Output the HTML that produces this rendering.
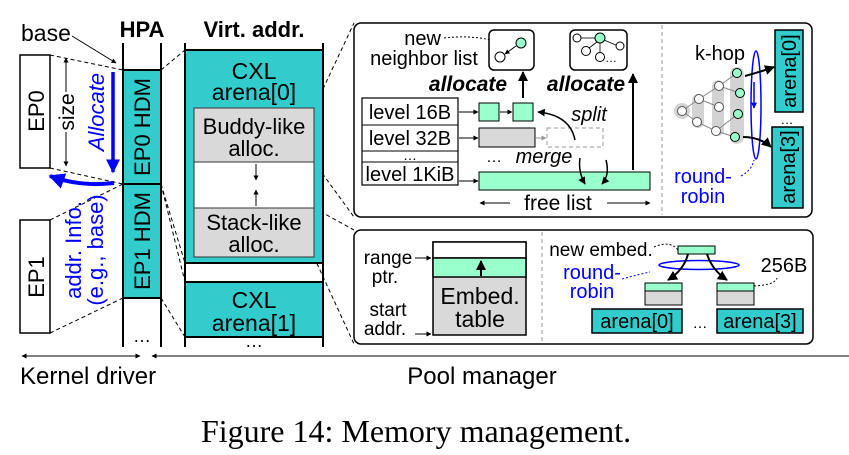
<!DOCTYPE html>
<html><head><meta charset="utf-8"><style>
html,body{margin:0;padding:0;background:#fff;}
svg{display:block;font-family:"Liberation Sans",sans-serif;}
</style></head><body>
<svg width="849" height="455" viewBox="0 0 849 455" xmlns="http://www.w3.org/2000/svg">
<defs>
<marker id="a" viewBox="0 0 10 10" refX="9" refY="5" markerWidth="5" markerHeight="5" orient="auto-start-reverse"><path d="M0,0L10,5L0,10z" fill="#000"/></marker>
<marker id="ab" viewBox="0 0 10 10" refX="9" refY="5" markerWidth="4" markerHeight="4" orient="auto"><path d="M0,0L10,5L0,10z" fill="#00f"/></marker>
<marker id="ag" viewBox="0 0 10 10" refX="9" refY="5" markerWidth="5" markerHeight="5" orient="auto"><path d="M0,0L10,5L0,10z" fill="#999"/></marker>
</defs>
<rect x="20" y="55" width="30" height="113" fill="#fff" stroke="#000" stroke-width="1.5"/>
<text transform="translate(44,111) rotate(-90)" font-size="22" text-anchor="middle">EP0</text>
<rect x="20" y="220" width="30" height="113" fill="#fff" stroke="#000" stroke-width="1.5"/>
<text transform="translate(44,277) rotate(-90)" font-size="22" text-anchor="middle">EP1</text>
<text x="21" y="41" font-size="23">base</text>
<line x1="72" y1="36" x2="116" y2="63" stroke="#000" marker-end="url(#a)"/>
<g stroke="#000" stroke-dasharray="4,3" fill="none">
<line x1="50" y1="55" x2="123" y2="70"/><line x1="50" y1="168" x2="123" y2="184"/>
<line x1="50" y1="220" x2="123" y2="184"/><line x1="50" y1="333" x2="123" y2="298"/>
<line x1="161" y1="70" x2="185" y2="50"/><line x1="161" y1="184" x2="185" y2="263"/>
<line x1="161" y1="184" x2="185" y2="282"/><line x1="161" y1="298" x2="185" y2="337"/>
<line x1="314" y1="108" x2="354" y2="23"/><line x1="314" y1="162" x2="354" y2="217"/>
<line x1="314" y1="208" x2="354" y2="230"/><line x1="314" y1="257" x2="354" y2="344"/>
</g>
<line x1="66" y1="58" x2="66" y2="166" stroke="#000" marker-start="url(#a)" marker-end="url(#a)"/>
<rect x="56" y="92" width="20" height="40" fill="#fff"/>
<text transform="translate(74,112) rotate(-90)" font-size="21" text-anchor="middle">size</text>
<text transform="translate(104,112) rotate(-90)" font-size="22" text-anchor="middle" fill="#00f" font-style="italic">Allocate</text>
<line x1="113" y1="72" x2="113" y2="172" stroke="#00f" stroke-width="3.5" marker-end="url(#ab)"/>
<path d="M114,183 Q80,187 50,176" stroke="#00f" stroke-width="4" fill="none" marker-end="url(#ab)"/>
<text transform="translate(81,250) rotate(-90)" font-size="22" text-anchor="middle" fill="#00f">addr. Info.</text>
<text transform="translate(103,250) rotate(-90)" font-size="22" text-anchor="middle" fill="#00f">(e.g., base)</text>
<text x="142" y="37" font-size="22" font-weight="bold" text-anchor="middle">HPA</text>
<line x1="123" y1="43" x2="123" y2="347" stroke="#000" stroke-width="2"/>
<line x1="161" y1="43" x2="161" y2="347" stroke="#000" stroke-width="2"/>
<rect x="123" y="70" width="38" height="114" fill="#33cccc" stroke="#000" stroke-width="2"/>
<rect x="123" y="184" width="38" height="114" fill="#33cccc" stroke="#000" stroke-width="2"/>
<text transform="translate(150,127) rotate(-90)" font-size="22" text-anchor="middle">EP0 HDM</text>
<text transform="translate(150,241) rotate(-90)" font-size="22" text-anchor="middle">EP1 HDM</text>
<text x="142" y="342" font-size="18" text-anchor="middle">…</text>
<text x="254" y="37" font-size="22" font-weight="bold" text-anchor="middle">Virt. addr.</text>
<line x1="185" y1="43" x2="185" y2="347" stroke="#000" stroke-width="2"/>
<line x1="323" y1="43" x2="323" y2="347" stroke="#000" stroke-width="2"/>
<rect x="185" y="50" width="138" height="213" fill="#33cccc" stroke="#000" stroke-width="2"/>
<text x="254" y="79" font-size="23" text-anchor="middle">CXL</text>
<text x="254" y="100" font-size="23" text-anchor="middle">arena[0]</text>
<rect x="194" y="108" width="120" height="149" fill="#fff" stroke="#333"/>
<rect x="194" y="108" width="120" height="54" fill="#d9d9d9" stroke="#333"/>
<rect x="194" y="208" width="120" height="49" fill="#d9d9d9" stroke="#333"/>
<text x="254" y="134" font-size="22" text-anchor="middle">Buddy-like</text>
<text x="254" y="156" font-size="22" text-anchor="middle">alloc.</text>
<text x="254" y="230" font-size="22" text-anchor="middle">Stack-like</text>
<text x="254" y="252" font-size="22" text-anchor="middle">alloc.</text>
<line x1="256" y1="164" x2="256" y2="180" stroke="#000" marker-end="url(#a)"/>
<line x1="256" y1="206" x2="256" y2="190" stroke="#000" marker-end="url(#a)"/>
<rect x="185" y="282" width="138" height="55" fill="#33cccc" stroke="#000" stroke-width="2"/>
<text x="254" y="308" font-size="23" text-anchor="middle">CXL</text>
<text x="254" y="331" font-size="23" text-anchor="middle">arena[1]</text>
<text x="254" y="347" font-size="18" text-anchor="middle">…</text>
<line x1="22" y1="356" x2="140" y2="356" stroke="#000" marker-start="url(#a)" marker-end="url(#a)"/>
<line x1="152" y1="356" x2="849" y2="356" stroke="#000" marker-start="url(#a)"/>
<text x="20" y="384" font-size="24">Kernel driver</text>
<text x="482" y="384" font-size="24" text-anchor="middle">Pool manager</text>
<text x="416" y="442" font-size="32" text-anchor="middle" font-family="Liberation Serif,serif">Figure 14: Memory management.</text>
<rect x="354" y="23" width="458" height="194" rx="7" fill="#fff" stroke="#000" stroke-width="1.5"/>
<line x1="662" y1="25" x2="662" y2="215" stroke="#999" stroke-dasharray="4,3"/>
<text x="441" y="45" font-size="20" text-anchor="end">new</text>
<text x="424" y="65" font-size="20" text-anchor="middle">neighbor list</text>
<path d="M444,38 Q470,35 490,40" stroke="#000" stroke-dasharray="2,2" fill="none"/>
<rect x="489" y="30" width="45" height="40" rx="5" fill="#fff" stroke="#000" stroke-width="1.5"/>
<circle cx="521" cy="43" r="5" fill="#99ffcc" stroke="#000"/><circle cx="500" cy="57" r="5" fill="#fff" stroke="#000"/>
<line x1="516" y1="46" x2="505" y2="54" stroke="#000" marker-end="url(#a)"/>
<rect x="570" y="30" width="57" height="40" rx="5" fill="#fff" stroke="#000" stroke-width="1.5"/>
<circle cx="577" cy="38" r="4" fill="#fff" stroke="#000"/><circle cx="600" cy="38" r="5" fill="#99ffcc" stroke="#000"/>
<circle cx="620" cy="46" r="4" fill="#fff" stroke="#000"/><circle cx="586" cy="51" r="4.5" fill="#fff" stroke="#000"/>
<circle cx="600" cy="57" r="4.5" fill="#fff" stroke="#000"/><text x="605" y="62" font-size="12">…</text>
<g stroke="#000" stroke-width="0.8"><line x1="595" y1="38" x2="581" y2="38"/><line x1="604" y1="40" x2="616" y2="45"/><line x1="597" y1="42" x2="589" y2="48"/><line x1="600" y1="43" x2="600" y2="52"/></g>
<text x="468" y="91" font-size="21" font-weight="bold" font-style="italic" text-anchor="middle">allocate</text>
<text x="586" y="91" font-size="21" font-weight="bold" font-style="italic" text-anchor="middle">allocate</text>
<line x1="523" y1="98" x2="523" y2="72" stroke="#000" stroke-width="2" marker-end="url(#a)"/>
<line x1="633" y1="170" x2="633" y2="74" stroke="#000" stroke-width="2" marker-end="url(#a)"/>
<g font-size="20">
<rect x="362" y="98" width="96" height="87" fill="#fff" stroke="#000" stroke-width="1.2"/>
<line x1="362" y1="125" x2="458" y2="125" stroke="#000"/><line x1="362" y1="151" x2="458" y2="151" stroke="#000"/><line x1="362" y1="162" x2="458" y2="162" stroke="#000"/>
<text x="410" y="119" text-anchor="middle">level 16B</text>
<text x="410" y="145" text-anchor="middle">level 32B</text>
<text x="410" y="160" text-anchor="middle" font-size="14">…</text>
<text x="410" y="181" text-anchor="middle">level 1KiB</text>
</g>
<g stroke="#000">
<line x1="459" y1="112" x2="478" y2="112" marker-end="url(#a)"/><line x1="500" y1="112" x2="512" y2="112" marker-end="url(#a)"/>
<line x1="459" y1="138" x2="478" y2="138" marker-end="url(#a)"/><line x1="459" y1="181" x2="478" y2="181" marker-end="url(#a)"/>
</g>
<rect x="479" y="103" width="20" height="18" fill="#99ffcc" stroke="#000"/>
<rect x="513" y="103" width="20" height="18" fill="#99ffcc" stroke="#000"/>
<rect x="479" y="128" width="56" height="19" fill="#d9d9d9" stroke="#000"/>
<line x1="536" y1="138" x2="546" y2="138" stroke="#999" marker-end="url(#ag)"/>
<rect x="547" y="128" width="56" height="19" fill="#fff" stroke="#999" stroke-dasharray="4,3"/>
<path d="M575,140 Q570,115 538,112" stroke="#000" stroke-width="1.5" fill="none" marker-end="url(#a)"/>
<text x="589" y="121" font-size="20" font-style="italic" text-anchor="middle">split</text>
<text x="486" y="162" font-size="16">…</text>
<text x="544" y="163" font-size="20" font-style="italic" text-anchor="middle">merge</text>
<rect x="479" y="172" width="171" height="18" fill="#99ffcc" stroke="#000"/>
<path d="M580,158 Q578,172 585,184" stroke="#000" stroke-width="1.5" fill="none" marker-end="url(#a)"/>
<path d="M606,160 Q610,175 602,184" stroke="#000" stroke-width="1.5" fill="none" marker-end="url(#a)"/>
<line x1="480" y1="203" x2="510" y2="203" stroke="#000" marker-start="url(#a)"/>
<line x1="607" y1="203" x2="650" y2="203" stroke="#000" marker-end="url(#a)"/>
<text x="558" y="210" font-size="21" text-anchor="middle">free list</text>
<text x="720" y="60" font-size="20" text-anchor="middle">k-hop</text>
<g fill="#ccc" opacity="0.85">
<circle cx="682" cy="111" r="8"/><rect x="692" y="94" width="12" height="34" rx="6"/>
<rect x="712" y="80" width="12" height="56" rx="6"/><rect x="730" y="67" width="14" height="77" rx="7"/>
</g>
<g stroke="#888" stroke-width="1">
<line x1="682" y1="111" x2="699" y2="99"/><line x1="682" y1="111" x2="697" y2="122"/>
<line x1="699" y1="99" x2="719" y2="86"/><line x1="699" y1="99" x2="719" y2="107"/>
<line x1="697" y1="122" x2="716" y2="131"/><line x1="719" y1="86" x2="737" y2="73"/>
<line x1="719" y1="86" x2="740" y2="93"/><line x1="716" y1="131" x2="738" y2="114"/><line x1="716" y1="131" x2="735" y2="137"/>
</g>
<g stroke="#555" fill="#fff">
<circle cx="682" cy="111" r="4.5"/><circle cx="699" cy="99" r="4.5"/><circle cx="697" cy="122" r="4.5"/>
<circle cx="719" cy="86" r="4.5"/><circle cx="719" cy="107" r="4.5"/><circle cx="716" cy="131" r="4.5"/>
</g>
<g stroke="#000" fill="#99ffcc">
<circle cx="737" cy="73" r="4.5"/><circle cx="740" cy="93" r="4.5"/><circle cx="738" cy="114" r="4.5"/><circle cx="735" cy="137" r="4.5"/>
</g>
<ellipse cx="756" cy="105" rx="5" ry="54" fill="none" stroke="#00f" stroke-width="1.5"/>
<line x1="754" y1="82" x2="754" y2="108" stroke="#00f" stroke-width="1.5" marker-end="url(#ab)"/>
<path d="M745,76 Q760,72 774,67" stroke="#000" stroke-width="2" fill="none" marker-end="url(#a)"/>
<path d="M743,137 Q760,137 771,147" stroke="#000" stroke-width="2" fill="none" marker-end="url(#a)"/>
<path d="M741,176 Q752,170 754,160" stroke="#00f" stroke-dasharray="2,2" fill="none"/>
<text x="703" y="183" font-size="20" fill="#00f" text-anchor="middle">round-</text>
<text x="703" y="203" font-size="20" fill="#00f" text-anchor="middle">robin</text>
<rect x="775" y="30" width="28" height="82" fill="#33cccc" stroke="#000" stroke-width="1.5"/>
<text transform="translate(796,71) rotate(-90)" font-size="20" text-anchor="middle">arena[0]</text>
<text x="787" y="124" font-size="13" text-anchor="middle">…</text>
<rect x="772" y="127" width="31" height="81" fill="#33cccc" stroke="#000" stroke-width="1.5"/>
<text transform="translate(795,167) rotate(-90)" font-size="20" text-anchor="middle">arena[3]</text>
<rect x="354" y="230" width="459" height="114" rx="7" fill="#fff" stroke="#000" stroke-width="1.5"/>
<line x1="542" y1="232" x2="542" y2="342" stroke="#999" stroke-dasharray="4,3"/>
<rect x="433" y="242" width="93" height="93" fill="#d9d9d9" stroke="#000" stroke-width="1.5"/>
<rect x="433" y="242" width="93" height="16" fill="#fff" stroke="#000" stroke-width="1.5"/>
<rect x="433" y="258" width="93" height="19" fill="#99ffcc" stroke="#000" stroke-width="1.5"/>
<line x1="481" y1="276" x2="481" y2="261" stroke="#000" stroke-width="2" marker-end="url(#a)"/>
<text x="480" y="304" font-size="23" text-anchor="middle">Embed.</text>
<text x="480" y="327" font-size="23" text-anchor="middle">table</text>
<g font-size="19" text-anchor="middle"><text x="388" y="264">range</text><text x="385" y="283">ptr.</text><text x="388" y="316">start</text><text x="385" y="335">addr.</text></g>
<line x1="415" y1="258" x2="431" y2="258" stroke="#000" marker-end="url(#a)"/>
<line x1="415" y1="334" x2="431" y2="334" stroke="#000" marker-end="url(#a)"/>
<text x="601" y="256" font-size="19" text-anchor="middle">new embed.</text>
<path d="M654,247 Q670,240 678,250" stroke="#000" stroke-dasharray="2,2" fill="none"/>
<rect x="678" y="246" width="37" height="8" fill="#99ffcc" stroke="#000"/>
<ellipse cx="699" cy="265" rx="40" ry="4.5" fill="none" stroke="#00f" stroke-width="1.5"/>
<path d="M688,254 Q684,270 668,280" stroke="#000" stroke-width="2" fill="none" marker-end="url(#a)"/>
<path d="M707,254 Q712,270 727,280" stroke="#000" stroke-width="2" fill="none" marker-end="url(#a)"/>
<path d="M622,279 Q640,274 650,272" stroke="#00f" stroke-dasharray="2,2" fill="none"/>
<text x="592" y="279" font-size="20" fill="#00f" text-anchor="middle">round-</text>
<text x="592" y="298" font-size="20" fill="#00f" text-anchor="middle">robin</text>
<text x="784" y="272" font-size="20" text-anchor="middle">256B</text>
<path d="M754,286 Q775,285 777,278" stroke="#000" stroke-dasharray="2,2" fill="none"/>
<rect x="645" y="283" width="37" height="22" fill="#d9d9d9" stroke="#000"/><rect x="645" y="283" width="37" height="8" fill="#99ffcc" stroke="#000"/>
<rect x="717" y="283" width="37" height="22" fill="#d9d9d9" stroke="#000"/><rect x="717" y="283" width="37" height="8" fill="#99ffcc" stroke="#000"/>
<rect x="592" y="309" width="90" height="24" fill="#33cccc" stroke="#000" stroke-width="1.5"/>
<text x="637" y="328" font-size="20" text-anchor="middle">arena[0]</text>
<text x="700" y="328" font-size="15" text-anchor="middle">…</text>
<rect x="717" y="309" width="86" height="24" fill="#33cccc" stroke="#000" stroke-width="1.5"/>
<text x="760" y="328" font-size="20" text-anchor="middle">arena[3]</text>
</svg>
</body></html>
